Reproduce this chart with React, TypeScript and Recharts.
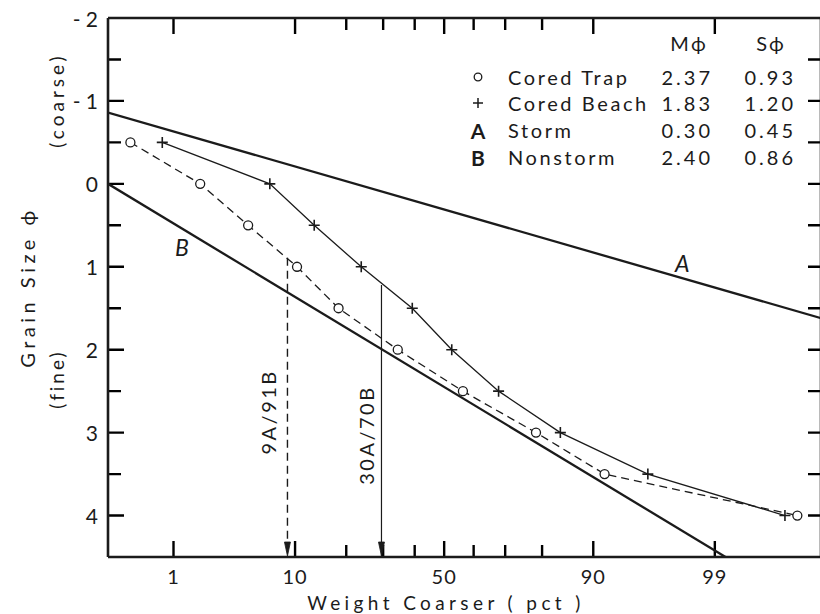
import React from 'react';
import { ComposedChart, Line, XAxis, YAxis, ReferenceDot, Customized } from 'recharts';

const INK = '#1b1b1b';
const TICK_INK = '#000000';
const FONT = 'Lato, "DejaVu Sans", sans-serif';

// ---- axes ----
const X_MIN_PCT = 0.193;
const X_MAX_PCT = 99.94;
const X_MAJOR_TICKS = [1, 10, 50, 90, 99];
const X_MINOR_TICKS = [20, 30, 40, 60, 70, 80];
const Y_MIN = -2;
const Y_MAX = 4.5;
const Y_TICKS = [-2, -1.5, -1, -0.5, 0, 0.5, 1, 1.5, 2, 2.5, 3, 3.5, 4, 4.5];
const Y_TICK_LABELS: Record<string, string> = { '-2': '- 2', '-1': '- 1', '0': '0', '1': '1', '2': '2', '3': '3', '4': '4' };

// ---- series (weight coarser pct, grain size phi) ----
const TRAP_PCT = [0.35, 1.8, 4.6, 10.3, 18.2, 34.5, 56.4, 78.5, 91.6, 99.88];
const TRAP_PHI = [-0.5, 0, 0.5, 1, 1.5, 2, 2.5, 3, 3.5, 4];
const BEACH_PCT = [0.77, 6.7, 13.2, 23.8, 39.2, 52.6, 68.0, 84.1, 96.0, 99.83];
const BEACH_PHI = [-0.5, 0, 0.5, 1, 1.5, 2, 2.5, 3, 3.5, 4];
const STORM_PCT = [0.193, 99.94];
const STORM_PHI = [-0.86, 1.62];
const NONSTORM_PCT = [0.193, 99.22];
const NONSTORM_PHI = [0.0, 4.5];
const MIX9_PCT = [8.9, 8.9];
const MIX9_PHI = [0.89, 4.5];
const MIX30_PCT = [29.5, 29.5];
const MIX30_PHI = [1.22, 4.5];

// ---- legend table ----
const LEGEND_LABELS = ['Cored Trap', 'Cored Beach', 'Storm', 'Nonstorm'];
const LEGEND_SYMBOLS = ['circle', 'plus', 'A', 'B'];
const LEGEND_MPHI = ['2.37', '1.83', '0.30', '2.40'];
const LEGEND_SPHI = ['0.93', '1.20', '0.45', '0.86'];

// ---- in-plot labels ----
const PLOT_LABELS = [
  { text: 'A', pct: 97.96, phi: 0.955, rotate: 0, italic: true, size: 23 },
  { text: 'B', pct: 1.21, phi: 0.76, rotate: 0, italic: true, size: 23 },
  { text: '9A/91B', pct: 6.5, phi: 2.75, rotate: -90, italic: false, size: 20 },
  { text: '30A/70B', pct: 25.1, phi: 3.03, rotate: -90, italic: false, size: 20 },
];

// chart geometry
const CHART_W = 831;
const CHART_H = 614;
const PLOT_LEFT = 108;
const PLOT_RIGHT = 821;
const PLOT_TOP = 18;
const PLOT_BOTTOM = 557;

// inverse standard normal CDF (probability-paper scale)
function probit(p: number): number {
  const a = [-3.969683028665376e1, 2.209460984245205e2, -2.759285104469687e2, 1.38357751867269e2, -3.066479806614716e1, 2.506628277459239];
  const b = [-5.447609879822406e1, 1.615858368580409e2, -1.556989798598866e2, 6.680131188771972e1, -1.328068155288572e1];
  const c = [-7.784894002430293e-3, -3.223964580411365e-1, -2.400758277161838, -2.549732539343734, 4.374664141464968, 2.938163982698783];
  const d = [7.784695709041462e-3, 3.224671290700398e-1, 2.445134137142996, 3.754408661907416];
  const plow = 0.02425;
  if (p < plow) {
    const q = Math.sqrt(-2 * Math.log(p));
    return (((((c[0] * q + c[1]) * q + c[2]) * q + c[3]) * q + c[4]) * q + c[5]) / ((((d[0] * q + d[1]) * q + d[2]) * q + d[3]) * q + 1);
  }
  if (p > 1 - plow) {
    const q = Math.sqrt(-2 * Math.log(1 - p));
    return -(((((c[0] * q + c[1]) * q + c[2]) * q + c[3]) * q + c[4]) * q + c[5]) / ((((d[0] * q + d[1]) * q + d[2]) * q + d[3]) * q + 1);
  }
  const q = p - 0.5;
  const r = q * q;
  return ((((((a[0] * r + a[1]) * r + a[2]) * r + a[3]) * r + a[4]) * r + a[5]) * q) / (((((b[0] * r + b[1]) * r + b[2]) * r + b[3]) * r + b[4]) * r + 1);
}

const zOf = (pct: number) => probit(pct / 100);
const Z_MIN = zOf(X_MIN_PCT);
const Z_MAX = zOf(X_MAX_PCT);
const PX_PER_Z = (PLOT_RIGHT - PLOT_LEFT) / (Z_MAX - Z_MIN);
const PX_PER_PHI = (PLOT_BOTTOM - PLOT_TOP) / (Y_MAX - Y_MIN);

const X_ALL = [...X_MAJOR_TICKS, ...X_MINOR_TICKS].sort((u, v) => u - v);
const X_LABEL_TICKS = X_MAJOR_TICKS.map(zOf);
const pctOfTick = (z: number) => {
  let best = X_ALL[0];
  let bd = Infinity;
  X_ALL.forEach((p) => {
    const dd = Math.abs(zOf(p) - z);
    if (dd < bd) { bd = dd; best = p; }
  });
  return best;
};

const build = (pcts: number[], phis: number[]) => pcts.map((p, i) => ({ z: zOf(p), phi: phis[i] }));
const trapData = build(TRAP_PCT, TRAP_PHI);
const beachData = build(BEACH_PCT, BEACH_PHI);
const stormData = build(STORM_PCT, STORM_PHI);
const nonstormData = build(NONSTORM_PCT, NONSTORM_PHI);
const mix9Data = build(MIX9_PCT, MIX9_PHI);
const mix30Data = build(MIX30_PCT, MIX30_PHI);

// inward tick marks, as broken polylines drawn through the axes' scales
type Pt = { z: number; phi: number | null };
const bottomTicks: Pt[] = [];
const topTicks: Pt[] = [];
X_ALL.forEach((p) => {
  const z = zOf(p);
  const len = (X_MAJOR_TICKS.includes(p) ? 16 : 12) / PX_PER_PHI;
  bottomTicks.push({ z, phi: Y_MAX }, { z, phi: Y_MAX - len }, { z, phi: null });
  topTicks.push({ z, phi: Y_MIN }, { z, phi: Y_MIN + len }, { z, phi: null });
});
const leftTicks: Pt[] = [];
const rightTicks: Pt[] = [];
Y_TICKS.filter((v) => v !== Y_MIN && v !== Y_MAX).forEach((v) => {
  const major = Number.isInteger(v);
  const lenL = (major ? 16 : 13) / PX_PER_Z;
  const lenR = 13 / PX_PER_Z;
  leftTicks.push({ z: Z_MIN, phi: v }, { z: Z_MIN + lenL, phi: v }, { z: Z_MIN + lenL, phi: null });
  rightTicks.push({ z: Z_MAX, phi: v }, { z: Z_MAX - lenR, phi: v }, { z: Z_MAX - lenR, phi: null });
});

const BottomTick = (props: any) => {
  const { x, y, payload } = props;
  const pct = pctOfTick(payload.value);
  return (
    <text key={`bt-${pct}`} x={x} y={y + 19} textAnchor="middle" dominantBaseline="central" fontFamily={FONT} fontSize={20} fill={INK} letterSpacing={1}>
      {pct}
    </text>
  );
};

const LeftTick = (props: any) => {
  const { x, y, payload } = props;
  const v = payload.value;
  const label = Y_TICK_LABELS[String(v)] ?? '';
  return (
    <text key={`lt-${v}`} x={x - 10} y={y} textAnchor="end" dominantBaseline="central" fontFamily={FONT} fontSize={21} fill={INK}>
      {label}
    </text>
  );
};

const plusDot = (props: any) => {
  const { cx, cy, index } = props;
  return <path key={`pd-${index}`} d={`M${cx - 5.5},${cy}H${cx + 5.5}M${cx},${cy - 5.5}V${cy + 5.5}`} stroke={INK} strokeWidth={1.6} fill="none" />;
};

const arrowDot = (props: any) => {
  const { cx, cy, index } = props;
  if (index !== 1) return <g key={`ad-${index}`} />;
  return <path key={`ad-${index}`} d={`M${cx - 3},${cy - 15}L${cx + 3},${cy - 15}L${cx},${cy - 1}Z`} fill={INK} stroke={INK} strokeWidth={0.8} />;
};

const Decorations = () => {
  const rowY = [77, 103, 130, 157];
  return (
    <g fontFamily={FONT} fill={INK}>
      <text x={27} y={287} transform="rotate(-90, 27, 287)" textAnchor="middle" dominantBaseline="central" fontSize={20} letterSpacing={4.5}>
        Grain Size ϕ
      </text>
      <text x={56} y={100} transform="rotate(-90, 56, 100)" textAnchor="middle" dominantBaseline="central" fontSize={19} letterSpacing={4}>
        (coarse)
      </text>
      <text x={56} y={379} transform="rotate(-90, 56, 379)" textAnchor="middle" dominantBaseline="central" fontSize={19} letterSpacing={3}>
        (fine)
      </text>
      <text x={446} y={602} textAnchor="middle" dominantBaseline="central" fontSize={19} letterSpacing={4.4}>
        Weight Coarser ( pct )
      </text>
      <text x={689} y={43} textAnchor="middle" dominantBaseline="central" fontSize={20} letterSpacing={2}>Mϕ</text>
      <text x={771} y={43} textAnchor="middle" dominantBaseline="central" fontSize={20} letterSpacing={2}>Sϕ</text>
      {LEGEND_LABELS.map((lab, i) => {
        const y = rowY[i];
        const sym = LEGEND_SYMBOLS[i];
        return (
          <g key={lab}>
            {sym === 'circle' && <circle cx={478} cy={y} r={3.8} fill="#fff" stroke={INK} strokeWidth={1.3} />}
            {sym === 'plus' && <path d={`M${473},${y}H${483}M${478},${y - 5}V${y + 5}`} stroke={INK} strokeWidth={1.5} />}
            {(sym === 'A' || sym === 'B') && (
              <text x={478} y={y} textAnchor="middle" dominantBaseline="central" fontSize={21} fontWeight={700}>{sym}</text>
            )}
            <text x={508} y={y} dominantBaseline="central" fontSize={20} letterSpacing={2.6}>{lab}</text>
            <text x={713} y={y} textAnchor="end" dominantBaseline="central" fontSize={20} letterSpacing={3}>{LEGEND_MPHI[i]}</text>
            <text x={796} y={y} textAnchor="end" dominantBaseline="central" fontSize={20} letterSpacing={3}>{LEGEND_SPHI[i]}</text>
          </g>
        );
      })}
    </g>
  );
};

export default function App() {
  const axisLine = { stroke: INK, strokeWidth: 2.6 };
  const tickLineProps = { stroke: TICK_INK, strokeWidth: 2.4, dot: false as const, isAnimationActive: false, connectNulls: false, dataKey: 'phi' };
  return (
    <div style={{ position: 'fixed', left: 0, top: 0, width: 820, height: 614, overflow: 'hidden', background: '#fff' }}>
      <ComposedChart width={CHART_W} height={CHART_H} margin={{ top: 8, right: 0, bottom: 0, left: 0 }}>
        <XAxis
          xAxisId={0}
          type="number"
          dataKey="z"
          domain={[Z_MIN, Z_MAX]}
          allowDataOverflow
          ticks={X_LABEL_TICKS}
          interval={0}
          tick={BottomTick}
          tickLine={false}
          tickSize={0}
          tickMargin={0}
          axisLine={axisLine}
          height={CHART_H - PLOT_BOTTOM}
        />
        <XAxis
          xAxisId="t"
          orientation="top"
          type="number"
          dataKey="z"
          domain={[Z_MIN, Z_MAX]}
          allowDataOverflow
          tick={false}
          tickLine={false}
          axisLine={axisLine}
          height={PLOT_TOP - 8}
        />
        <YAxis
          yAxisId={0}
          type="number"
          domain={[Y_MIN, Y_MAX]}
          reversed
          allowDataOverflow
          ticks={Y_TICKS}
          interval={0}
          tick={LeftTick}
          tickLine={false}
          tickSize={0}
          tickMargin={0}
          axisLine={axisLine}
          width={PLOT_LEFT}
        />
        <YAxis
          yAxisId="r"
          orientation="right"
          type="number"
          domain={[Y_MIN, Y_MAX]}
          reversed
          allowDataOverflow
          tick={false}
          tickLine={false}
          axisLine={axisLine}
          width={CHART_W - PLOT_RIGHT}
        />
        <Line data={bottomTicks} {...tickLineProps} />
        <Line data={topTicks} {...tickLineProps} />
        <Line data={leftTicks} {...tickLineProps} />
        <Line data={rightTicks} {...tickLineProps} />
        <Line data={stormData} dataKey="phi" stroke={INK} strokeWidth={2.3} dot={false} isAnimationActive={false} />
        <Line data={nonstormData} dataKey="phi" stroke={INK} strokeWidth={2.3} dot={false} isAnimationActive={false} />
        <Line data={mix9Data} dataKey="phi" stroke={INK} strokeWidth={1.4} strokeDasharray="8 5" dot={arrowDot} isAnimationActive={false} />
        <Line data={mix30Data} dataKey="phi" stroke={INK} strokeWidth={1.2} dot={arrowDot} isAnimationActive={false} />
        <Line data={beachData} dataKey="phi" stroke={INK} strokeWidth={1.3} dot={plusDot} isAnimationActive={false} />
        <Line
          data={trapData}
          dataKey="phi"
          stroke={INK}
          strokeWidth={1.3}
          strokeDasharray="8 5"
          dot={{ r: 4.5, stroke: INK, strokeWidth: 1.3, fill: '#fff', strokeDasharray: '' }}
          isAnimationActive={false}
        />
        {PLOT_LABELS.map((l) => (
          <ReferenceDot
            key={l.text}
            x={zOf(l.pct)}
            y={l.phi}
            r={0}
            ifOverflow="visible"
            shape={(p: any) => (
              <text
                x={p.cx}
                y={p.cy}
                transform={l.rotate ? `rotate(${l.rotate}, ${p.cx}, ${p.cy})` : undefined}
                textAnchor="middle"
                dominantBaseline="central"
                fontFamily={FONT}
                fontSize={l.size}
                fontStyle={l.italic ? 'italic' : 'normal'}
                letterSpacing={l.rotate ? 2.5 : 0}
                fill={INK}
              >
                {l.text}
              </text>
            )}
          />
        ))}
        <Customized component={Decorations} />
      </ComposedChart>
    </div>
  );
}
